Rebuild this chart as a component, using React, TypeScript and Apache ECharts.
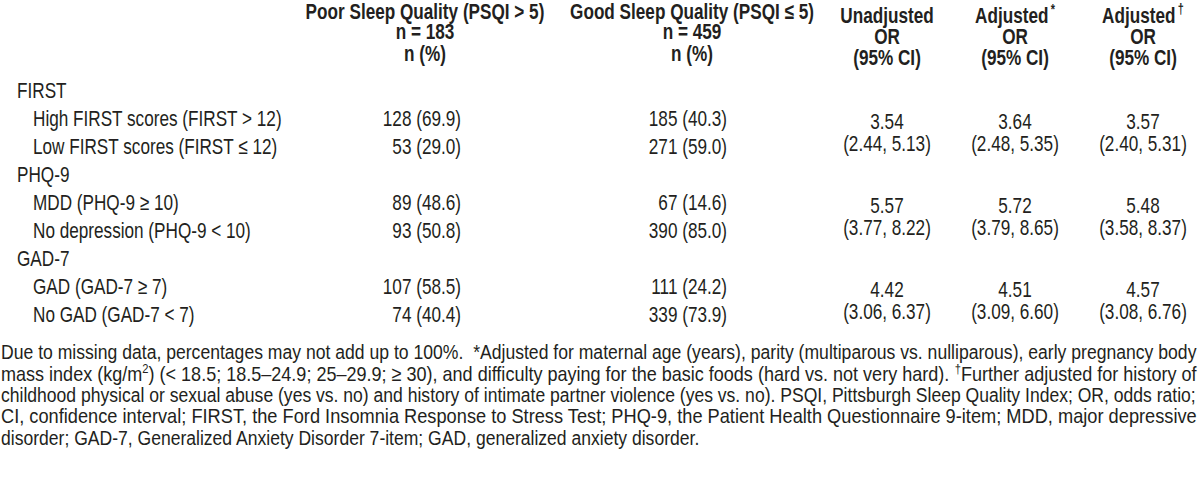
import React, { useEffect, useRef } from "react";
import * as echarts from "echarts";

const groups = ["FIRST", "PHQ-9", "GAD-7"];
const rowLabels = [
  ["High FIRST scores (FIRST > 12)", "Low FIRST scores (FIRST ≤ 12)"],
  ["MDD (PHQ-9 ≥ 10)", "No depression (PHQ-9 < 10)"],
  ["GAD (GAD-7 ≥ 7)", "No GAD (GAD-7 < 7)"],
];
const poorN = [[128, 53], [89, 93], [107, 74]];
const poorPct = [[69.9, 29.0], [48.6, 50.8], [58.5, 40.4]];
const goodN = [[185, 271], [67, 390], [111, 339]];
const goodPct = [[40.3, 59.0], [14.6, 85.0], [24.2, 73.9]];
const orUnadj = [3.54, 5.57, 4.42];
const ciUnadj = [[2.44, 5.13], [3.77, 8.22], [3.06, 6.37]];
const orAdj1 = [3.64, 5.72, 4.51];
const ciAdj1 = [[2.48, 5.35], [3.79, 8.65], [3.09, 6.6]];
const orAdj2 = [3.57, 5.48, 4.57];
const ciAdj2 = [[2.4, 5.31], [3.58, 8.37], [3.08, 6.76]];

const headPoor = ["Poor Sleep Quality (PSQI > 5)", "n = 183", "n (%)"];
const headGood = ["Good Sleep Quality (PSQI ≤ 5)", "n = 459", "n (%)"];
const headOr = [
  { main: "Unadjusted", sup: "" },
  { main: "Adjusted", sup: "*" },
  { main: "Adjusted", sup: "†" },
];

// footnote lines: segments, sup marks superscript
const footLines: { t: string; sup?: boolean }[][] = [
  [{ t: "Due to missing data, percentages may not add up to 100%.  *Adjusted for maternal age (years), parity (multiparous vs. nulliparous), early pregnancy body" }],
  [
    { t: "mass index (kg/m" },
    { t: "2", sup: true },
    { t: ") (< 18.5; 18.5–24.9; 25–29.9; ≥ 30), and difficulty paying for the basic foods (hard vs. not very hard). " },
    { t: "†", sup: true },
    { t: "Further adjusted for history of" },
  ],
  [{ t: "childhood physical or sexual abuse (yes vs. no) and history of intimate partner violence (yes vs. no). PSQI, Pittsburgh Sleep Quality Index; OR, odds ratio;" }],
  [{ t: "CI, confidence interval; FIRST, the Ford Insomnia Response to Stress Test; PHQ-9, the Patient Health Questionnaire 9-item; MDD, major depressive" }],
  [{ t: "disorder; GAD-7, Generalized Anxiety Disorder 7-item; GAD, generalized anxiety disorder." }],
];

const FONT = "'Liberation Sans', Arial, sans-serif";
const COLOR = "#231f20";
const SX = 0.78;
const FS = 22;
const FOOT_FS = 21;
const SUP_FS = 13;

function measure(text: string, size: number, weight = "normal") {
  const c = document.createElement("canvas").getContext("2d")!;
  c.font = `${weight} ${size}px ${FONT}`;
  return c.measureText(text).width;
}

function txt(x: number, y: number, text: string, align: string, bold = false, sx = SX, size = FS): any {
  return {
    type: "text",
    x,
    y,
    scaleX: sx,
    silent: true,
    style: {
      text,
      fontFamily: FONT,
      fontSize: size,
      fontWeight: bold ? "bold" : "normal",
      fill: COLOR,
      align,
      verticalAlign: "middle",
    },
  };
}

export default function App() {
  const ref = useRef<HTMLDivElement>(null);
  useEffect(() => {
    const chart = echarts.init(ref.current!, null, { renderer: "svg" });
    const els: any[] = [];

    // column geometry
    const poorCenter = 425;
    const poorRight = 461;
    const goodCenter = 692;
    const goodRight = 727;
    const orCenters = [887, 1015, 1143];

    // headers
    const hY = [11, 31, 53];
    headPoor.forEach((t, i) => els.push(txt(poorCenter, hY[i], t, "center", true)));
    headGood.forEach((t, i) => els.push(txt(goodCenter, hY[i], t, "center", true)));
    const oY = [15, 36, 57];
    headOr.forEach((h, k) => {
      const cx = orCenters[k];
      if (h.sup) {
        els.push({
          type: "text",
          x: cx,
          y: oY[0],
          scaleX: SX,
          silent: true,
          style: {
            text: `{m|${h.main}}{s|${h.sup}}`,
            align: "center",
            verticalAlign: "middle",
            rich: {
              m: { fontFamily: FONT, fontSize: FS, fontWeight: "bold", fill: COLOR, lineHeight: 24 },
              s: { fontFamily: FONT, fontSize: 14, fontWeight: "bold", fill: COLOR, lineHeight: 24, verticalAlign: "top", padding: [0, 0, 0, 3] },
            },
          },
        });
      } else {
        els.push(txt(cx, oY[0], h.main, "center", true));
      }
      els.push(txt(cx, oY[1], "OR", "center", true));
      els.push(txt(cx, oY[2], "(95% CI)", "center", true));
    });

    // body rows
    const rowStart = 90;
    const rowStep = 28;
    let r = 0;
    groups.forEach((g, gi) => {
      const gy = rowStart + rowStep * r;
      els.push(txt(17, gy, g, "left"));
      r++;
      const y1 = rowStart + rowStep * r;
      const y2 = rowStart + rowStep * (r + 1);
      for (let j = 0; j < 2; j++) {
        const y = j === 0 ? y1 : y2;
        els.push(txt(33, y, rowLabels[gi][j], "left"));
        els.push(txt(poorRight, y, `${poorN[gi][j]} (${poorPct[gi][j].toFixed(1)})`, "right"));
        els.push(txt(goodRight, y, `${goodN[gi][j]} (${goodPct[gi][j].toFixed(1)})`, "right"));
      }
      const ors = [orUnadj[gi], orAdj1[gi], orAdj2[gi]];
      const cis = [ciUnadj[gi], ciAdj1[gi], ciAdj2[gi]];
      for (let k = 0; k < 3; k++) {
        els.push(txt(orCenters[k], y1 + 3, ors[k].toFixed(2), "center"));
        els.push(txt(orCenters[k], y2 - 3, `(${cis[k][0].toFixed(2)}, ${cis[k][1].toFixed(2)})`, "center"));
      }
      r += 2;
    });

    // footnotes
    const fY = [351, 373, 394, 416, 437];
    footLines.forEach((segs, i) => {
      let w = 0;
      segs.forEach((s) => (w += measure(s.t, s.sup ? SUP_FS : FOOT_FS)));
      const target = i < 4 ? 1196 : 700;
      const sx = target / w;
      const text = segs.map((s) => (s.sup ? `{s|${s.t}}` : `{n|${s.t}}`)).join("");
      els.push({
        type: "text",
        x: 1,
        y: fY[i],
        scaleX: sx,
        silent: true,
        style: {
          text,
          align: "left",
          verticalAlign: "middle",
          rich: {
            n: { fontFamily: FONT, fontSize: FOOT_FS, fill: COLOR, lineHeight: 22 },
            s: { fontFamily: FONT, fontSize: SUP_FS, fill: COLOR, lineHeight: 22, verticalAlign: "top" },
          },
        },
      });
    });

    chart.setOption({
      animation: false,
      backgroundColor: "#ffffff",
      graphic: { elements: els },
    });
    return () => chart.dispose();
  }, []);
  return (
    <div
      ref={ref}
      style={{ position: "fixed", left: 0, top: 0, width: 1200, height: 482, background: "#fff" }}
    />
  );
}
